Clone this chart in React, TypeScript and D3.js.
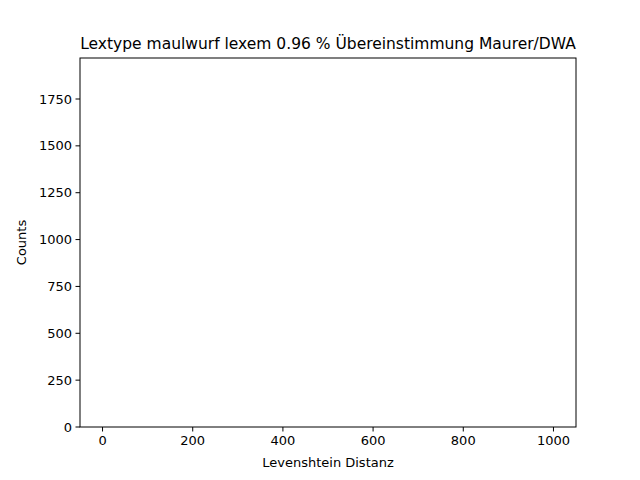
import React from "react";
import * as d3 from "d3";

const xTicks = [0, 200, 400, 600, 800, 1000];
const yTicks = [0, 250, 500, 750, 1000, 1250, 1500, 1750];
const counts: number[] = [];
const title = "Lextype maulwurf lexem 0.96 % Übereinstimmung Maurer/DWA";

export default function App() {
  const L = 80, R = 576, T = 58, B = 427;
  const x = d3.scaleLinear().domain([-50, 1050]).range([L, R]);
  const y = d3.scaleLinear().domain([0, 1968.75]).range([B, T]);
  const font = "DejaVu Sans";
  return (
    <svg width={640} height={480} style={{ position: "absolute", left: 0, top: 0 }} fontFamily={font}>
      <rect width={640} height={480} fill="#fff" />
      {counts.map((c, i) => (
        <rect key={i} x={x(i)} y={y(c)} width={x(i + 1) - x(i)} height={B - y(c)} fill="#1f77b4" />
      ))}
      <rect x={L} y={T} width={R - L} height={B - T} fill="none" stroke="#000" strokeWidth={1} />
      {xTicks.map((t) => (
        <g key={t}>
          <line x1={x(t)} x2={x(t)} y1={B} y2={B + 4.5} stroke="#000" />
          <text x={x(t)} y={B + 18} fontSize={13} textAnchor="middle">{t}</text>
        </g>
      ))}
      {yTicks.map((t) => (
        <g key={t}>
          <line x1={L - 4.5} x2={L} y1={y(t)} y2={y(t)} stroke="#000" />
          <text x={L - 8} y={y(t) + 4.5} fontSize={13} textAnchor="end">{t}</text>
        </g>
      ))}
      <text x={(L + R) / 2} y={467} fontSize={13} textAnchor="middle">Levenshtein Distanz</text>
      <text transform={`translate(26,${(T + B) / 2}) rotate(-90)`} fontSize={13} textAnchor="middle">Counts</text>
      <text x={(L + R) / 2} y={49} fontSize={15.5} textAnchor="middle">{title}</text>
    </svg>
  );
}
